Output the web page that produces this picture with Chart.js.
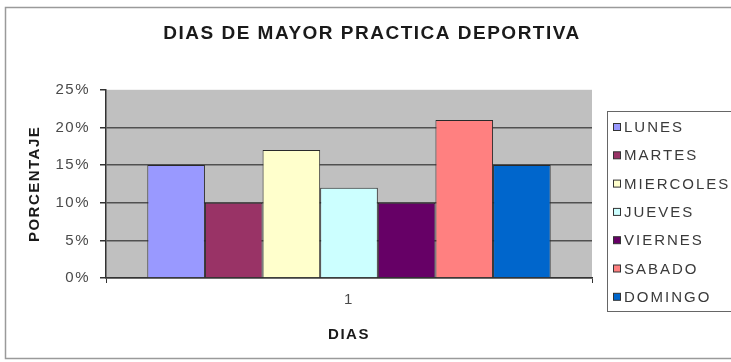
<!DOCTYPE html>
<html>
<head>
<meta charset="utf-8">
<script src="https://cdn.jsdelivr.net/npm/chart.js@4/dist/chart.umd.min.js"></script>
<style>
  body { margin: 0; background: #fff; }
</style>
</head>
<body>
<canvas id="chart" width="731" height="362"></canvas>
<script>
  const categories = ['1'];
  const days = ['LUNES', 'MARTES', 'MIERCOLES', 'JUEVES', 'VIERNES', 'SABADO', 'DOMINGO'];
  const percentages = [15, 10, 17, 12, 10, 21, 15];
  const dayColors = ['#9999ff', '#993366', '#ffffcc', '#ccffff', '#660066', '#ff8080', '#0066cc'];
  const yTicks = [0, 5, 10, 15, 20, 25];

  const FONT = '"Liberation Sans", Arial, sans-serif';

  // frame, grey plot area, letter spacing like the old Excel render
  const background = {
    id: 'background',
    beforeDraw(chart) {
      const { ctx, chartArea: a } = chart;
      ctx.save();
      ctx.fillStyle = '#fff';
      ctx.fillRect(0, 0, chart.width, chart.height);
      ctx.strokeStyle = '#9a9a9a';
      ctx.lineWidth = 1.5;
      ctx.strokeRect(5.5, 7.5, 760, 351);
      ctx.fillStyle = '#c0c0c0';
      ctx.fillRect(a.left, a.top, a.right - a.left, a.bottom - a.top);
      ctx.restore();
      ctx.letterSpacing = '1.5px';
    }
  };

  // legend box on the right, from the datasets
  const sideLegend = {
    id: 'sideLegend',
    afterDraw(chart) {
      const ctx = chart.ctx;
      ctx.save();
      ctx.strokeStyle = '#666';
      ctx.lineWidth = 1;
      ctx.strokeRect(607.5, 111.5, 140, 200);
      ctx.font = '15px ' + FONT;
      ctx.letterSpacing = '2px';
      ctx.textBaseline = 'middle';
      chart.data.datasets.forEach((ds, i) => {
        const y = 127 + i * 28.3;
        ctx.fillStyle = ds.backgroundColor;
        ctx.fillRect(613.5, y - 3.5, 7, 7);
        ctx.strokeStyle = '#333';
        ctx.strokeRect(613.5, y - 3.5, 7, 7);
        ctx.fillStyle = '#3a3a3a';
        ctx.fillText(ds.label, 624, y + 1);
      });
      ctx.restore();
    }
  };

  new Chart(document.getElementById('chart'), {
    type: 'bar',
    data: {
      labels: categories,
      datasets: days.map((d, i) => ({
        label: d,
        data: [percentages[i]],
        backgroundColor: dayColors[i],
        borderColor: '#2a2a2a',
        borderWidth: 1
      }))
    },
    options: {
      responsive: false,
      animation: false,
      layout: { padding: { left: 13, top: 0, right: 0, bottom: 0 } },
      datasets: { bar: { categoryPercentage: 0.83, barPercentage: 1 } },
      plugins: {
        legend: { display: false },
        tooltip: { enabled: false },
        title: {
          display: true,
          text: 'DIAS DE MAYOR PRACTICA DEPORTIVA',
          color: '#1a1a1a',
          font: { family: FONT, size: 19, weight: 'bold' },
          padding: { top: 22, bottom: 45 }
        }
      },
      scales: {
        x: {
          grid: { drawOnChartArea: false, tickLength: 5, color: '#333' },
          border: { color: '#333', width: 1.5 },
          ticks: { color: '#4a4a4a', padding: 8, font: { family: FONT, size: 15 } },
          title: {
            display: true,
            text: 'DIAS',
            color: '#1a1a1a',
            font: { family: FONT, size: 15, weight: 'bold' },
            padding: { top: 0, bottom: 18 }
          },
          afterFit: s => { s.height = 84; }
        },
        y: {
          min: 0,
          max: 25,
          afterBuildTicks: s => { s.ticks = yTicks.map(v => ({ value: v })); },
          grid: {
            color: c => (c.tick && c.tick.value === 25 ? 'rgba(0,0,0,0)' : '#505050'),
            lineWidth: 1.5,
            tickLength: 6,
            tickColor: '#333'
          },
          border: { color: '#333', width: 1.5 },
          ticks: {
            color: '#4a4a4a',
            padding: 10,
            font: { family: FONT, size: 15 },
            callback: v => v + '%'
          },
          title: {
            display: true,
            text: 'PORCENTAJE',
            color: '#1a1a1a',
            font: { family: FONT, size: 15, weight: 'bold' },
            padding: { top: 13, bottom: 0 }
          },
          afterFit: s => { s.width = 93; }
        },
        // empty axis that keeps room for the legend
        y2: {
          position: 'right',
          grid: { display: false },
          border: { display: false },
          ticks: { display: false },
          afterFit: s => { s.width = 139; }
        }
      }
    },
    plugins: [background, sideLegend]
  });
</script>
</body>
</html>
